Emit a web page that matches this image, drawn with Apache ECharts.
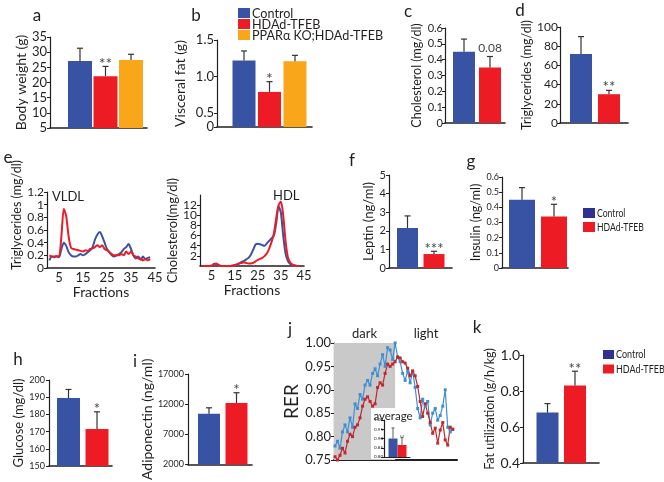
<!DOCTYPE html>
<html><head><meta charset="utf-8">
<script src="https://cdn.jsdelivr.net/npm/echarts@6/dist/echarts.min.js"></script>
<style>html,body{margin:0;padding:0;background:#fff}#c{width:664px;height:482px}</style>
</head><body><div id="c"></div>
<script>
// ---------- data ----------
const groups3 = ['Control', 'HDAd-TFEB', 'PPARα KO;HDAd-TFEB'];
const groups2 = ['Control', 'HDAd-TFEB'];

const bodyWeight = [27.1, 22.1, 27.4];
const bodyWeightErr = [31.3, 25.3, 29.3];
const bodyWeightSig = ['', '**', ''];

const visceralFat = [1.22, 0.79, 1.21];
const visceralFatErr = [1.35, 0.93, 1.29];
const visceralFatSig = ['', '*', ''];

const cholesterol = [0.45, 0.35];
const cholesterolErr = [0.53, 0.42];
const cholesterolSig = ['', '0.08'];

const triglycerides = [72, 30];
const triglyceridesErr = [90, 34];
const triglyceridesSig = ['', '**'];

const leptin = [2.15, 0.75];
const leptinErr = [2.8, 0.9];
const leptinSig = ['', '***'];

const insulin = [0.45, 0.34];
const insulinErr = [0.53, 0.42];
const insulinSig = ['', '*'];

const glucose = [189.5, 171.5];
const glucoseErr = [194.5, 181.5];
const glucoseSig = ['', '*'];

const adiponectin = [10400, 12200];
const adiponectinErr = [11400, 13900];
const adiponectinSig = ['', '*'];

const fatUtil = [0.68, 0.83];
const fatUtilErr = [0.73, 0.91];
const fatUtilSig = ['', '**'];

const rerAvg = [0.90, 0.865];
const rerAvgErr = [0.957, 0.905];
const rerAvgSig = ['', '**'];

const fractions = [1,2,3,4,5,6,7,8,9,10,11,12,13,14,15,16,17,18,19,20,21,22,23,24,25,26,27,28,29,30,31,32,33,34,35,36,37,38,39,40,41,42,43];
const tgControl = [0.12,0.18,0.17,0.18,0.17,0.30,0.40,0.35,0.25,0.20,0.18,0.18,0.20,0.22,0.20,0.22,0.25,0.28,0.33,0.45,0.53,0.57,0.50,0.40,0.30,0.25,0.20,0.18,0.20,0.22,0.25,0.30,0.33,0.38,0.30,0.20,0.15,0.18,0.13,0.18,0.14,0.16,0.17];
const tgTFEB = [0.20,0.18,0.18,0.19,0.18,0.50,0.93,0.82,0.50,0.32,0.30,0.29,0.28,0.27,0.26,0.28,0.27,0.30,0.31,0.33,0.36,0.33,0.36,0.30,0.28,0.25,0.22,0.20,0.20,0.20,0.22,0.20,0.26,0.22,0.26,0.20,0.18,0.15,0.15,0.12,0.14,0.12,0.14];
const cholControl = [0,0,0,0,0,0.1,0.3,0.2,0,0,0,0,0,0,0.1,0.3,0.5,0.8,1.0,1.3,1.6,2.2,3.2,4.2,4.4,4.3,4.1,4.0,4.5,5.0,5.5,6.0,8.5,11.8,10.5,6.0,2.5,1.0,0.4,0.2,0.1,0,0];
const cholTFEB = [0,0,0,0,0.1,0.4,0.5,0.2,0,0,0,0,0,0.1,0.2,0.3,0.5,0.6,0.7,0.6,0.5,0.5,0.6,0.9,1.2,1.4,1.6,2.0,2.5,3.5,4.8,6.5,9.5,12.0,12.7,10.0,5.0,1.8,0.7,0.3,0.1,0,0];

const rerControl = [0.78,0.79,0.775,0.81,0.825,0.81,0.84,0.82,0.87,0.86,0.89,0.88,0.91,0.92,0.91,0.935,0.945,0.93,0.955,0.975,0.95,0.99,0.985,0.965,1.00,0.97,0.96,0.935,0.92,0.94,0.915,0.94,0.905,0.86,0.84,0.88,0.865,0.875,0.825,0.85,0.86,0.835,0.845,0.865,0.90,0.82,0.81,0.815];
const rerTFEB = [0.757,0.75,0.76,0.775,0.765,0.79,0.805,0.80,0.82,0.825,0.84,0.865,0.88,0.885,0.875,0.865,0.87,0.905,0.915,0.91,0.935,0.955,0.95,0.955,0.96,0.97,0.968,0.96,0.957,0.946,0.93,0.94,0.93,0.907,0.875,0.843,0.87,0.85,0.83,0.807,0.818,0.786,0.814,0.83,0.793,0.782,0.82,0.816];
const darkPhaseEnd = 24;   // time-point index where the dark phase ends

// ---------- styles ----------
const BLUE = '#3953a4', RED = '#ed1c24', ORANGE = '#f9a61a', LBLUE = '#3f8fd2', DRED = '#c1272d';
const LEGBLUE = '#2e3192';
const INK = '#231f20';
const FONT = 'Lato';
const c3 = [BLUE, RED, ORANGE], c2 = [BLUE, RED];

const option = {
  animation: false,
  backgroundColor: '#fff',
  textStyle: { fontFamily: FONT, color: INK },
  grid: [], xAxis: [], yAxis: [], series: [], graphic: []
};

function errRender(p) {
  return function (params, api) {
    const i = params.dataIndex;
    const x = api.value(0);
    const a = api.coord([x, api.value(1)]);
    const b = api.coord([x, api.value(2)]);
    const cw = p.cap || 3;
    const lw = p.ew || 1.2;
    const ch = [
      { type: 'line', shape: { x1: a[0], y1: a[1], x2: b[0], y2: b[1] }, style: { stroke: '#333', lineWidth: lw } },
      { type: 'line', shape: { x1: b[0] - cw, y1: b[1], x2: b[0] + cw, y2: b[1] }, style: { stroke: '#333', lineWidth: lw } }
    ];
    const s = p.sig[i];
    if (s) {
      ch.push({ type: 'text', x: b[0], y: b[1] - (p.sigGap == null ? 0 : p.sigGap),
        style: { text: s, align: 'center', textAlign: 'center', verticalAlign: 'bottom', textVerticalAlign: 'bottom',
          fontSize: p.sigFs || 14, fontFamily: FONT, fill: p.sigColor || '#444' } });
    }
    return { type: 'group', children: ch };
  };
}

function yAxisCfg(gi, p) {
  const y = {
    type: 'value', gridIndex: gi, min: p.min, max: p.max,
    axisLine: { show: true, onZero: false, lineStyle: { color: INK, width: 1.2 } },
    axisTick: { show: true, length: 3, lineStyle: { color: INK } },
    axisLabel: { fontSize: p.fs, color: INK, margin: p.margin == null ? 4 : p.margin, fontFamily: FONT },
    splitLine: { show: false },
    name: p.name, nameLocation: 'middle', nameRotate: 90, nameGap: p.nameGap,
    nameTextStyle: { fontSize: p.nameFs, color: INK, fontFamily: FONT, padding: p.namePad || 0 },
    z: p.z || 0
  };
  if (p.fmt) y.axisLabel.formatter = p.fmt;
  if (p.custom) { y.axisLabel.customValues = p.custom; y.axisTick.customValues = p.custom; }
  else y.interval = p.interval;
  return y;
}

function addBarPanel(p) {
  const gi = option.grid.length;
  option.grid.push({ left: p.left, top: p.top, width: p.width, height: p.height });
  option.xAxis.push({ type: 'value', gridIndex: gi, min: p.xMin, max: p.xMax,
    axisLine: { show: true, onZero: false, lineStyle: { color: INK, width: p.xw || 1.6 } },
    axisTick: { show: false }, axisLabel: { show: false }, splitLine: { show: false }, z: p.z || 0 });
  option.yAxis.push(yAxisCfg(gi, p));
  option.series.push({ type: 'bar', xAxisIndex: gi, yAxisIndex: gi, barWidth: p.barW, z: (p.z || 2),
    data: p.values.map((v, i) => ({ value: [i, v], name: p.cats[i], itemStyle: { color: p.colors[i] } })) });
  option.series.push({ type: 'custom', xAxisIndex: gi, yAxisIndex: gi, z: (p.z || 2) + 1,
    renderItem: errRender(p), data: p.values.map((v, i) => [i, v, p.err[i]]) });
}

function addFractionPanel(p) {
  const gi = option.grid.length;
  option.grid.push({ left: p.left, top: p.top, width: p.width, height: p.height });
  option.xAxis.push({ type: 'value', gridIndex: gi, min: 0, max: 45,
    axisLine: { show: true, onZero: false, lineStyle: { color: INK, width: 1.6 } },
    axisTick: { show: false },
    axisLabel: { customValues: [5, 15, 25, 35, 45], fontSize: 13, color: INK, margin: 3 },
    splitLine: { show: false },
    name: 'Fractions', nameLocation: 'middle', nameGap: 17, nameTextStyle: { fontSize: 14, color: INK } });
  option.yAxis.push(yAxisCfg(gi, p));
  [[p.control, BLUE], [p.tfeb, RED]].forEach(([arr, col], k) => {
    option.series.push({ type: 'line', xAxisIndex: gi, yAxisIndex: gi, name: groups2[k],
      data: fractions.map((f, i) => [f, arr[i]]), symbol: 'none', smooth: 0.25,
      lineStyle: { color: col, width: 2 }, z: 2 + k });
  });
  option.graphic.push({ type: 'text', x: p.tagX, y: p.tagY,
    style: { text: p.tag, fontSize: 13, fill: INK, fontFamily: FONT, align: 'left', textAlign: 'left', verticalAlign: 'middle', textVerticalAlign: 'middle' } });
}

// a
addBarPanel({ left: 50, top: 37, width: 97, height: 91, xMin: -1.176, xMax: 2.627,
  min: 5, max: 35, interval: 5, fs: 13, margin: 3,
  name: 'Body weight (g)', nameGap: 21, nameFs: 14,
  values: bodyWeight, err: bodyWeightErr, sig: bodyWeightSig, cats: groups3, colors: c3, barW: 24, sigFs: 16, sigGap: -5 });
// b
addBarPanel({ left: 217, top: 40, width: 95, height: 87, xMin: -1.059, xMax: 2.667,
  min: 0.31, max: 1.5, custom: [0.31, 0.5, 1.0, 1.5], fmt: v => (v < 0.4 ? '0' : v.toFixed(1)), fs: 13, margin: 3,
  name: 'Visceral fat (g)', nameGap: 30, nameFs: 14,
  values: visceralFat, err: visceralFatErr, sig: visceralFatSig, cats: groups3, colors: c3, barW: 23, sigFs: 16, sigGap: -5 });
// c
addBarPanel({ left: 445, top: 28, width: 60, height: 95, xMin: -0.731, xMax: 1.577,
  min: 0, max: 0.6, interval: 0.1, fs: 11, margin: 2,
  name: 'Cholesterol (mg/dl)', nameGap: 14, nameFs: 12.5,
  values: cholesterol, err: cholesterolErr, sig: cholesterolSig, cats: groups2, colors: c2, barW: 22, sigFs: 12, sigGap: 2 });
// d
addBarPanel({ left: 560, top: 27, width: 68, height: 96, xMin: -0.75, xMax: 1.679,
  min: 0, max: 100, interval: 20, fs: 12, margin: 2,
  name: 'Triglycerides (mg/dl)', nameGap: 15, nameFs: 12.5,
  values: triglycerides, err: triglyceridesErr, sig: triglyceridesSig, cats: groups2, colors: c2, barW: 22, sigFs: 15, sigGap: -4 });
// e (left)
addFractionPanel({ left: 47, top: 192, width: 108, height: 76, min: 0, max: 1.2, interval: 0.2, fs: 12, margin: 3,
  name: 'Triglycerides (mg/dl)', nameGap: 17, nameFs: 12.5, namePad: [0, 0, 0, 30],
  control: tgControl, tfeb: tgTFEB, tag: 'VLDL', tagX: 52, tagY: 197 });
// e (right)
addFractionPanel({ left: 200, top: 195, width: 104, height: 71, min: 0, max: 14, interval: 2, fs: 12, margin: 3,
  name: 'Cholesterol(mg/dl)', nameGap: 20, nameFs: 13,
  control: cholControl, tfeb: cholTFEB, tag: 'HDL', tagX: 273, tagY: 196 });
// f
addBarPanel({ left: 389, top: 175, width: 63, height: 93, xMin: -0.698, xMax: 1.679,
  min: 0, max: 5, interval: 1, fs: 11, margin: 3,
  name: 'Leptin (ng/ml)', nameGap: 13, nameFs: 13,
  values: leptin, err: leptinErr, sig: leptinSig, cats: groups2, colors: c2, barW: 21, sigFs: 15, sigGap: -5 });
// g
addBarPanel({ left: 502, top: 177, width: 66, height: 91, xMin: -0.625, xMax: 1.4375,
  min: 0, max: 0.6, interval: 0.1, fs: 9, margin: 3,
  name: 'Insulin (ng/ml)', nameGap: 16, nameFs: 12.5,
  values: insulin, err: insulinErr, sig: insulinSig, cats: groups2, colors: c2, barW: 26, sigFs: 15, sigGap: -5 });
// h
addBarPanel({ left: 49, top: 380, width: 63, height: 86, xMin: -0.684, xMax: 1.526,
  min: 150, max: 200, interval: 10, fs: 9, margin: 4,
  name: 'Glucose (mg/dl)', nameGap: 22, nameFs: 13,
  values: glucose, err: glucoseErr, sig: glucoseSig, cats: groups2, colors: c2, barW: 23, sigFs: 15, sigGap: -5 });
// i
addBarPanel({ left: 188, top: 374, width: 64, height: 92, xMin: -0.764, xMax: 1.564,
  min: 2000, max: 17000, interval: 5000, fs: 9, margin: 4, fmt: v => String(v),
  name: 'Adiponectin (ng/ml)', nameGap: 28, nameFs: 14,
  values: adiponectin, err: adiponectinErr, sig: adiponectinSig, cats: groups2, colors: c2, barW: 22, sigFs: 15, sigGap: -5 });
// k
addBarPanel({ left: 523, top: 355, width: 76, height: 108, xMin: -0.891, xMax: 1.873,
  min: 0.4, max: 1.0, interval: 0.2, fs: 14, margin: 3, fmt: v => v.toFixed(1),
  name: 'Fat utilization (g/h/kg)', nameGap: 23, nameFs: 12.5,
  values: fatUtil, err: fatUtilErr, sig: fatUtilSig, cats: groups2, colors: c2, barW: 22, sigFs: 15, sigGap: -5 });

// j (RER time course)
(function () {
  const gi = option.grid.length;
  option.grid.push({ left: 334, top: 343, width: 123, height: 117 });
  option.xAxis.push({ type: 'value', gridIndex: gi, min: -0.4, max: 48.7,
    axisLine: { show: true, onZero: false, lineStyle: { color: INK, width: 2 } },
    axisTick: { show: false }, axisLabel: { show: false }, splitLine: { show: false } });
  option.yAxis.push(yAxisCfg(gi, { min: 0.75, max: 1.0, interval: 0.05, fs: 13, margin: 3, fmt: v => v.toFixed(2),
    name: 'RER', nameGap: 27, nameFs: 19 }));
  const mk = (arr) => arr.map((v, i) => [i, v]);
  option.series.push({ type: 'line', xAxisIndex: gi, yAxisIndex: gi, name: 'Control', data: mk(rerControl),
    symbol: 'rect', symbolSize: 3, itemStyle: { color: LBLUE }, lineStyle: { color: LBLUE, width: 1.2 }, z: 2,
    markArea: { silent: true,
      label: { position: 'top', fontSize: 13, color: INK, distance: 3, fontFamily: FONT },
      data: [
        [{ name: 'dark', xAxis: -0.4, itemStyle: { color: '#c9c9c9' } }, { xAxis: darkPhaseEnd }],
        [{ name: 'light', xAxis: darkPhaseEnd, itemStyle: { color: 'rgba(0,0,0,0)' } }, { xAxis: 48.7 }]
      ] } });
  option.series.push({ type: 'line', xAxisIndex: gi, yAxisIndex: gi, name: 'HDAd-TFEB', data: mk(rerTFEB),
    symbol: 'rect', symbolSize: 3, itemStyle: { color: DRED }, lineStyle: { color: DRED, width: 1.2 }, z: 2 });
})();

// j inset (average)
option.graphic.push({ type: 'rect', shape: { x: 371, y: 408, width: 42, height: 51 }, style: { fill: '#fff' }, z: 3 });
option.graphic.push({ type: 'text', x: 393, y: 416, z: 4,
  style: { text: 'average', fontSize: 11.5, fill: INK, fontFamily: FONT, align: 'center', textAlign: 'center', verticalAlign: 'middle', textVerticalAlign: 'middle' } });
addBarPanel({ left: 384, top: 420, width: 26, height: 37, xMin: -1, xMax: 1.889, z: 5, xw: 1,
  min: 0.8, max: 1.0, interval: 0.05, fs: 4.5, margin: 1, fmt: v => v.toFixed(2),
  name: '', nameGap: 0, nameFs: 5,
  values: rerAvg, err: rerAvgErr, sig: rerAvgSig, cats: groups2, colors: c2, barW: 9, cap: 1.5, ew: 0.8, sigFs: 6, sigGap: -2 });

// panel letters
[['a', 37, 16], ['b', 196, 16], ['c', 408, 12], ['d', 520, 11], ['e', 8, 158], ['f', 352, 161], ['g', 471, 162],
 ['h', 18, 360], ['i', 135, 362], ['j', 290, 330], ['k', 477, 328]].forEach(([t, x, y]) => {
  option.graphic.push({ type: 'text', x, y,
    style: { text: t, fontSize: 17, fill: INK, fontFamily: FONT, align: 'center', textAlign: 'center', verticalAlign: 'middle', textVerticalAlign: 'middle' } });
});

// legends
function legend(x, y0, step, w, h, fs, sx, names, cols) {
  names.forEach((n, i) => {
    const y = y0 + i * step;
    option.graphic.push({ type: 'rect', shape: { x, y, width: w, height: h }, style: { fill: cols[i] } });
    option.graphic.push({ type: 'text', x: x + w + 2, y: y + h / 2, scaleX: sx,
      style: { text: n, fontSize: fs, fill: INK, fontFamily: FONT, align: 'left', textAlign: 'left', verticalAlign: 'middle', textVerticalAlign: 'middle' } });
  });
}
legend(238, 8, 11, 12, 10, 14, 0.9, groups3, [BLUE, RED, ORANGE]);
legend(583, 208, 14, 12, 10, 12, 0.72, groups2, [LEGBLUE, RED]);
legend(603, 350, 14.5, 11, 9, 12, 0.75, groups2, [LEGBLUE, RED]);

const chart = echarts.init(document.getElementById('c'), null, { renderer: 'canvas' });
chart.setOption(option);
</script>
</body></html>
